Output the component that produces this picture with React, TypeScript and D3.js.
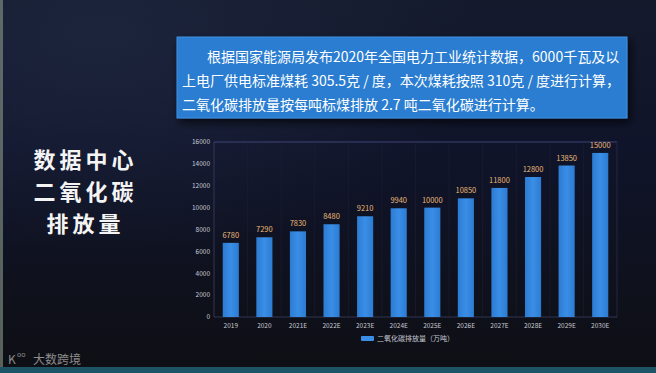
import React from 'react';
import * as d3 from 'd3';

const years = ['2019', '2020', '2021E', '2022E', '2023E', '2024E', '2025E', '2026E', '2027E', '2028E', '2029E', '2030E'];
const emissions = [6780, 7290, 7830, 8480, 9210, 9940, 10000, 10850, 11800, 12800, 13850, 15000];
const yTicks = [0, 2000, 4000, 6000, 8000, 10000, 12000, 14000, 16000];
const seriesName = '二氧化碳排放量（万吨）';
const titleLines = ['数据中心', '二氧化碳', '排放量'];
const noteLines = [
  '根据国家能源局发布2020年全国电力工业统计数据，6000千瓦及以',
  '上电厂供电标准煤耗 305.5克 / 度，本次煤耗按照 310克 / 度进行计算，',
  '二氧化碳排放量按每吨标煤排放 2.7 吨二氧化碳进行计算。',
];

const W = 656;
const H = 373;
const font = '"Noto Sans CJK SC", "Noto Sans", sans-serif';

const App: React.FC = () => {
  const plot = { left: 214, right: 617, top: 142, bottom: 317 };

  const x = d3.scaleBand<string>()
    .domain(years)
    .range([plot.left, plot.right])
    .paddingInner(0.52)
    .paddingOuter(0.26);

  const y = d3.scaleLinear()
    .domain([0, 16000])
    .range([plot.bottom, plot.top]);

  const step = x.step();

  return (
    <svg width={W} height={H} style={{ position: 'fixed', left: 0, top: 0, fontFamily: font }}>
      <defs>
        <linearGradient id="bg" x1="0" y1="0" x2="0" y2="1">
          <stop offset="0%" stopColor="#141a2c" />
          <stop offset="40%" stopColor="#10142a" />
          <stop offset="100%" stopColor="#0e0f14" />
        </linearGradient>
        <radialGradient id="glow" cx="0.15" cy="0.1" r="0.6">
          <stop offset="0%" stopColor="#1e2740" stopOpacity={0.8} />
          <stop offset="100%" stopColor="#1e2740" stopOpacity={0} />
        </radialGradient>
        <linearGradient id="bar" x1="0" y1="0" x2="1" y2="0">
          <stop offset="0%" stopColor="#2c7bd2" />
          <stop offset="50%" stopColor="#3a8ee6" />
          <stop offset="100%" stopColor="#2c7bd2" />
        </linearGradient>
        <filter id="shadow" x="-10%" y="-30%" width="120%" height="160%">
          <feGaussianBlur in="SourceAlpha" stdDeviation="4" />
          <feOffset dx="3" dy="4" result="off" />
          <feComponentTransfer><feFuncA type="linear" slope="0.7" /></feComponentTransfer>
          <feMerge>
            <feMergeNode />
            <feMergeNode in="SourceGraphic" />
          </feMerge>
        </filter>
      </defs>

      <rect width={W} height={H} fill="url(#bg)" />
      <rect width={W} height={H} fill="url(#glow)" />
      <rect x={0} y={0} width={3} height={H} fill="#8a9a88" opacity={0.6} />
      <rect x={0} y={367} width={W} height={6} fill="#1d5466" />

      {/* note box */}
      <rect x={177} y={37} width={450} height={81} fill="#2c7dd0" stroke="#3d8fe0" strokeWidth={1} filter="url(#shadow)" />
      {noteLines.map((t, i) => (
        <text key={i} x={i === 0 ? 207 : 182} y={62 + i * 24} fill="#ffffff" fontSize={14}>
          {t}
        </text>
      ))}

      {/* left title */}
      {titleLines.map((t, i) => (
        <text key={i} x={84 + 1.5} y={168 + i * 32} fill="#f4f4f4" fontSize={22} letterSpacing={4}
          fontWeight="bold" textAnchor="middle">
          {t}
        </text>
      ))}

      {/* grid */}
      <line x1={plot.left} x2={plot.right} y1={plot.top} y2={plot.top} stroke="#4a4f8a" strokeWidth={0.8} />
      <line x1={plot.right} x2={plot.right} y1={plot.top} y2={plot.bottom} stroke="#2a2e4a" strokeWidth={0.8} />
      {years.map((d) => (
        <line key={d} x1={(x(d) ?? 0) + x.bandwidth() / 2 + step / 2} x2={(x(d) ?? 0) + x.bandwidth() / 2 + step / 2}
          y1={plot.top} y2={plot.bottom} stroke="#1c2036" strokeWidth={0.6} />
      ))}
      <line x1={plot.left} x2={plot.left} y1={plot.top} y2={plot.bottom} stroke="#3a3f60" strokeWidth={0.8} />
      <line x1={plot.left} x2={plot.right} y1={plot.bottom} y2={plot.bottom} stroke="#3a3f60" strokeWidth={0.8} />

      {yTicks.map((t) => (
        <text key={t} x={plot.left - 4} y={y(t)} dy="0.35em" fill="#c8cad4" fontSize={6.5} textAnchor="end">
          {t}
        </text>
      ))}

      {years.map((d, i) => {
        const bx = x(d) ?? 0;
        const cx = bx + x.bandwidth() / 2;
        return (
          <g key={d}>
            <rect x={bx} y={y(emissions[i])} width={x.bandwidth()} height={plot.bottom - y(emissions[i])} fill="url(#bar)" />
            <text x={cx} y={y(emissions[i]) - 5} fill="#e9b878" fontSize={7.5} textAnchor="middle">
              {emissions[i]}
            </text>
            <text x={cx} y={plot.bottom + 11} fill="#c8cad4" fontSize={6.5} textAnchor="middle">
              {d}
            </text>
          </g>
        );
      })}

      {/* legend */}
      <rect x={361} y={336} width={13} height={5} fill="#3a8ee6" rx={1} />
      <text x={377} y={341} fill="#c8cad4" fontSize={7}>{seriesName}</text>

      {/* watermark */}
      <text x={8} y={364} fill="#8c8c8c" fontSize={12}>K</text>
      <text x={17} y={357} fill="#8c8c8c" fontSize={7}>oo</text>
      <text x={33} y={364} fill="#8c8c8c" fontSize={12}>大数跨境</text>
    </svg>
  );
};

export default App;
